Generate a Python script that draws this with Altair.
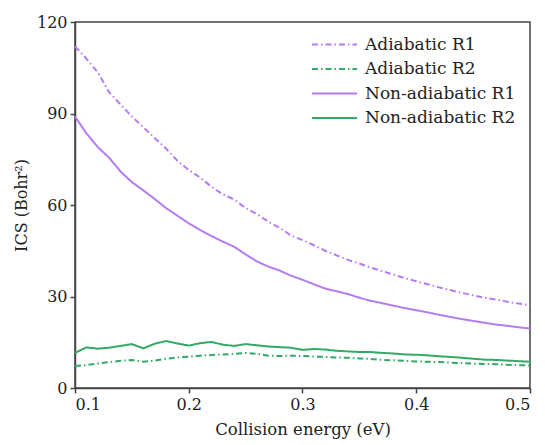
import altair as alt
import pandas as pd

energy = [round(0.10 + 0.01 * i, 2) for i in range(41)]

adiabatic_r1 = [112, 108, 103.5, 97, 93, 89, 85.5, 82, 78.5, 74.5, 71.5, 69, 66, 63.5, 61.8,
                59, 57, 54.5, 52.5, 50, 48.5, 46.8, 45, 43.5, 42, 40.8, 39.5, 38.3, 37.2, 36,
                35, 34, 33, 32.1, 31.2, 30.4, 29.6, 29, 28.3, 27.7, 27.1]
adiabatic_r2 = [7.2, 7.5, 8.0, 8.5, 8.9, 9.2, 8.6, 9.0, 9.6, 10.0, 10.3, 10.6, 10.8, 11.0, 11.2,
                11.5, 11.2, 10.6, 10.5, 10.6, 10.5, 10.3, 10.2, 10.0, 9.9, 9.7, 9.5, 9.2, 9.1, 8.9,
                8.7, 8.6, 8.5, 8.3, 8.2, 8.0, 7.9, 7.8, 7.6, 7.5, 7.4]
nonadiabatic_r1 = [89, 83.5, 79, 75.5, 71, 67.5, 64.8, 62, 59, 56.5, 54, 51.8, 49.8, 48, 46.3,
                   43.8, 41.5, 39.8, 38.5, 36.8, 35.5, 34, 32.6, 31.7, 30.8, 29.6, 28.6, 27.8, 27, 26.2,
                   25.5, 24.8, 24, 23.3, 22.6, 22, 21.4, 20.8, 20.4, 19.9, 19.5]
nonadiabatic_r2 = [11.5, 13.3, 12.9, 13.2, 13.8, 14.4, 13.0, 14.5, 15.4, 14.6, 13.9, 14.7, 15.1, 14.2, 13.8,
                   14.4, 14.0, 13.6, 13.4, 13.2, 12.5, 12.8, 12.6, 12.2, 12.0, 11.8, 11.8, 11.5, 11.3, 11.0,
                   10.9, 10.7, 10.4, 10.2, 9.9, 9.6, 9.3, 9.2, 9.0, 8.8, 8.6]

series_names = ["Adiabatic R1", "Adiabatic R2", "Non-adiabatic R1", "Non-adiabatic R2"]
series_values = [adiabatic_r1, adiabatic_r2, nonadiabatic_r1, nonadiabatic_r2]
series_colors = ["#b57bf2", "#34a866", "#b57bf2", "#34a866"]
series_dashes = [[6, 3, 1.5, 3], [6, 3, 1.5, 3], [1, 0], [1, 0]]

rows = []
for name, vals in zip(series_names, series_values):
    for e, v in zip(energy, vals):
        rows.append({"E": e, "ICS": v, "series": name})
df = pd.DataFrame(rows)

font = "DejaVu Serif"

chart = alt.Chart(df).mark_line(strokeWidth=2).encode(
    x=alt.X("E:Q", scale=alt.Scale(domain=[0.1, 0.5], nice=False),
            axis=alt.Axis(title="Collision energy (eV)", values=[0.1, 0.2, 0.3, 0.4, 0.5],
                          format=".1f", titlePadding=9, titleFontSize=16.5)),
    y=alt.Y("ICS:Q", scale=alt.Scale(domain=[0, 120], nice=False),
            axis=alt.Axis(title="ICS (Bohr²)", values=[0, 30, 60, 90, 120], titlePadding=7,
                          titleFontSize=16)),
    color=alt.Color("series:N", scale=alt.Scale(domain=series_names, range=series_colors),
                    legend=alt.Legend(title=None, orient="none", legendX=251, legendY=14,
                                      symbolType="M-3,0H3", symbolSize=225, symbolStrokeWidth=2,
                                      labelFontSize=17, labelFont=font, labelColor="#222",
                                      labelOffset=22, rowPadding=6.5, labelLimit=300)),
    strokeDash=alt.StrokeDash("series:N", scale=alt.Scale(domain=series_names, range=series_dashes),
                              legend=None),
    detail="series:N",
).properties(
    width=455,
    height=366,
    autosize=alt.AutoSizeParams(type="none"),
    padding={"left": 67, "top": 14, "right": 7, "bottom": 60},
).configure(
    font=font
).configure_view(
    stroke="#444", strokeWidth=1.5
).configure_axis(
    grid=False,
    domainColor="#444", domainWidth=1.5,
    tickColor="#444", tickWidth=1.5, tickSize=5,
    labelFont=font, titleFont=font,
    labelFontSize=16, labelColor="#222", labelPadding=3,
    titleColor="#222", titleFontWeight="normal",
)

chart.save("out.html", embed_options={"renderer": "svg", "actions": False})
